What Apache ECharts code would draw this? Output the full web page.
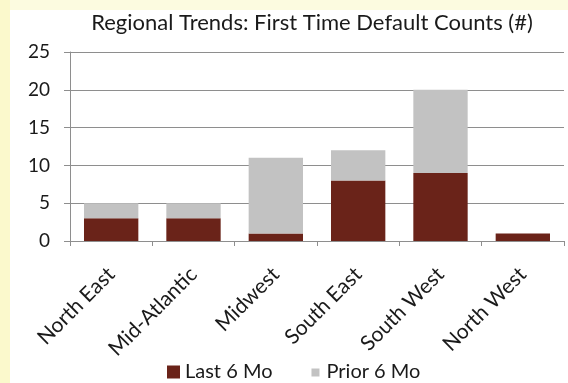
<!DOCTYPE html>
<html><head><meta charset="utf-8">
<script src="https://cdn.jsdelivr.net/npm/echarts@6/dist/echarts.min.js"></script>
<style>html,body{margin:0;padding:0;background:#fff}#c{width:568px;height:383px}</style>
</head><body><div id="c"></div>
<script>
var categories = ['North East','Mid-Atlantic','Midwest','South East','South West','North West'];
var last6 = [3, 3, 1, 8, 9, 1];
var prior6 = [2, 2, 10, 4, 11, 0];
var seriesNames = ['Last 6 Mo','Prior 6 Mo'];
var titleText = 'Regional Trends: First Time Default Counts (#)';
var FONT = 'Lato, "Open Sans", sans-serif';
var chart = echarts.init(document.getElementById('c'));
chart.setOption({
  backgroundColor: '#ffffff',
  animation: false,
  graphic: [
    {type:'rect', shape:{x:0,y:0,width:568,height:10}, style:{fill:'#fcfbe0'}, z:-10},
    {type:'rect', shape:{x:0,y:0,width:10,height:383}, style:{fill:'#fbf9cc'}, z:-10}
  ],
  title: {text: titleText, left: 312, textAlign:'center', top: 12, padding:0,
    textStyle:{fontFamily:FONT, fontSize:22, fontWeight:'normal', color:'#1a1a1a'}},
  grid: {left:70, right:4, top:52, bottom:142},
  legend: {top: 362, left:167, itemWidth:13, itemHeight:13, itemGap:36, padding:0,
    textStyle:{fontFamily:FONT, fontSize:20, color:'#1a1a1a'},
    data: [
      {name: seriesNames[0], icon:'rect'},
      {name: seriesNames[1], icon:'path://M0,0M13,13M3,3h8v8h-8z'}
    ]},
  xAxis: {type:'category', data: categories,
    axisLine:{lineStyle:{color:'#8e8e8e'}},
    axisTick:{show:true, length:5, lineStyle:{color:'#8e8e8e'}},
    axisLabel:{rotate:45, fontFamily:FONT, fontSize:21, color:'#1a1a1a', margin:30, interval:0}},
  yAxis: {type:'value', min:0, max:25, interval:5,
    axisLine:{show:true, lineStyle:{color:'#8e8e8e'}},
    axisTick:{show:true, length:6, lineStyle:{color:'#8e8e8e'}},
    splitLine:{lineStyle:{color:'#8e8e8e'}},
    axisLabel:{fontFamily:FONT, fontSize:19, color:'#1a1a1a', margin:20}},
  series: [
    {name: seriesNames[0], type:'bar', stack:'a', data:last6, barWidth:'66%', itemStyle:{color:'#6a2319'}},
    {name: seriesNames[1], type:'bar', stack:'a', data:prior6, barWidth:'66%', itemStyle:{color:'#c2c2c2'}}
  ]
});
</script></body></html>
